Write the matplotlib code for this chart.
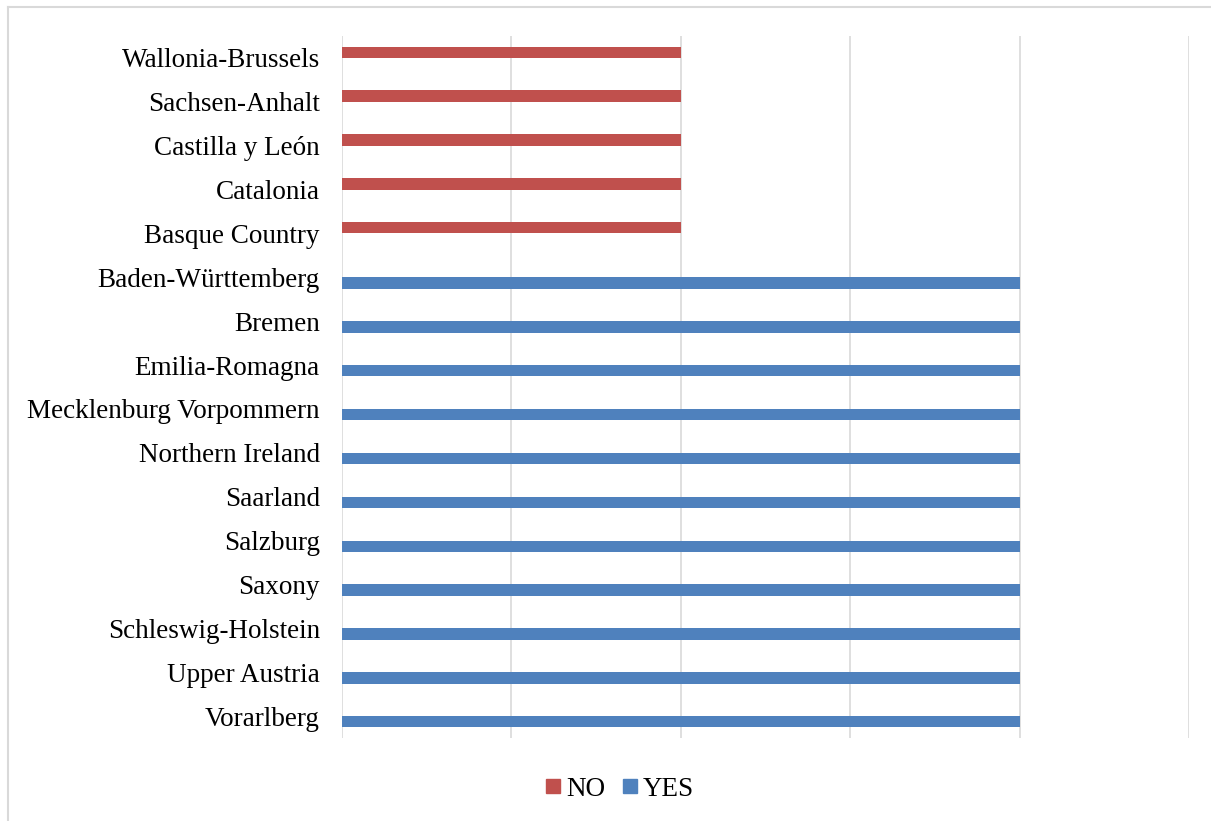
import numpy as np
import matplotlib.pyplot as plt
from matplotlib.lines import Line2D

# regions listed top to bottom as in the chart
regions = ['Wallonia-Brussels', 'Sachsen-Anhalt', 'Castilla y León', 'Catalonia',
           'Basque Country', 'Baden-Württemberg', 'Bremen', 'Emilia-Romagna',
           'Mecklenburg Vorpommern', 'Northern Ireland', 'Saarland', 'Salzburg',
           'Saxony', 'Schleswig-Holstein', 'Upper Austria', 'Vorarlberg']
no_vals = [1, 1, 1, 1, 1, 0, 0, 0, 0, 0, 0, 0, 0, 0, 0, 0]
yes_vals = [0, 0, 0, 0, 0, 2, 2, 2, 2, 2, 2, 2, 2, 2, 2, 2]

plt.rcParams['font.family'] = ['Liberation Serif', 'DejaVu Serif']

fig = plt.figure(figsize=(12.11, 8.21), dpi=100)
ax = fig.add_axes([342/1211, 83/821, (1189-342)/1211, (738-36)/821])

red = '#C0504D'
blue = '#4F81BD'
h = 0.26
y = np.arange(len(regions))[::-1]

ax.barh(y + h/2, no_vals, height=h, color=red, label='NO', zorder=3)
ax.barh(y - h/2, yes_vals, height=h, color=blue, label='YES', zorder=3)

ax.set_ylim(-0.5, len(regions) - 0.5)
ax.set_xlim(0, 2.5)
ax.set_xticks(np.arange(0, 2.51, 0.5))
ax.set_xticklabels([])
ax.set_yticks(y)
ax.set_yticklabels(regions, fontsize=19.5)
ax.tick_params(length=0, pad=16)
ax.grid(axis='x', color='#D9D9D9', linewidth=1.2, zorder=0)
for s in ax.spines.values():
    s.set_visible(False)

handles = [Line2D([], [], marker='s', ls='', color=red, markersize=10.5),
           Line2D([], [], marker='s', ls='', color=blue, markersize=10.5)]
fig.legend(handles, ['NO', 'YES'], loc='center', bbox_to_anchor=(617/1211, 1 - 789/821),
           ncol=2, frameon=False, fontsize=19.5, handletextpad=0.0, columnspacing=0.38,
           handlelength=1.0)

# chart frame
fig.add_artist(Line2D([8/1211, 8/1211], [0, 1 - 7/821], color='#D9D9D9', lw=1.5))
fig.add_artist(Line2D([8/1211, 1], [1 - 7/821, 1 - 7/821], color='#D9D9D9', lw=1.5))

fig.savefig('out.png', dpi=100)
